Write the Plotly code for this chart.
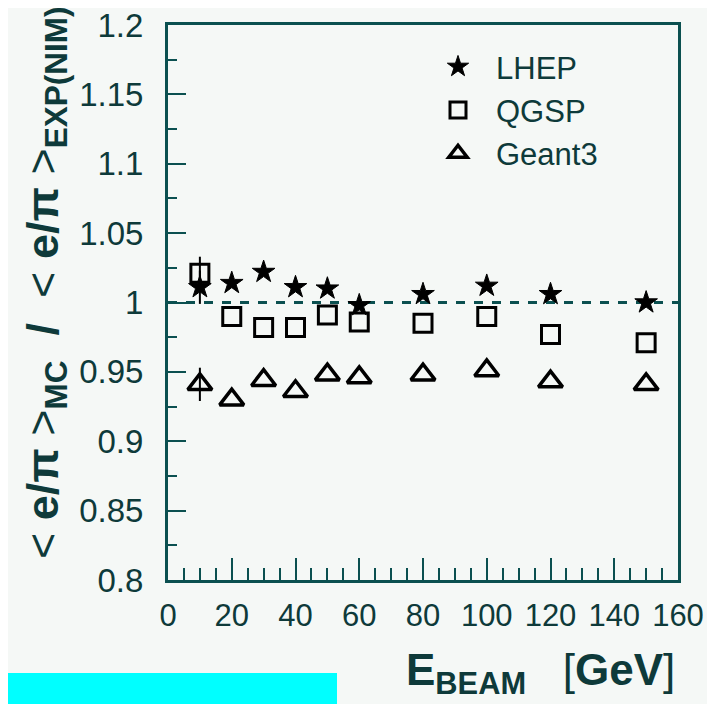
import plotly.graph_objects as go

energies = [10, 20, 30, 40, 50, 60, 80, 100, 120, 150]
lhep = [1.011, 1.014, 1.022, 1.011, 1.010, 0.998, 1.006, 1.012, 1.006, 1.000]
qgsp = [1.021, 0.990, 0.982, 0.982, 0.991, 0.986, 0.985, 0.990, 0.977, 0.971]
geant3 = [0.941, 0.930, 0.944, 0.936, 0.948, 0.946, 0.948, 0.951, 0.943, 0.941]
errs = [0.012, 0, 0, 0, 0, 0, 0, 0, 0, 0]
ref_value = 1.0
x_range = [0, 160]
y_range = [0.8, 1.2]

TXT = "#0e3a3a"
LINE = "#0b5050"
BG = "#f5f8f6"
FONT = "Liberation Sans, Arial, sans-serif"

# page body has an 8px margin: figure coordinates = reference pixels - 8
OFF = 8
W, H = 715, 704
L, R, T, B = 168 - OFF, 678 - OFF, 25 - OFF, 580 - OFF
PW, PH = R - L, B - T


def px(x):
    return (x - OFF - L) / PW


def py(y):
    return (B - (y - OFF)) / PH


fig = go.Figure()
series = [
    ("LHEP", lhep, "star", 17, "black", 1),
    ("QGSP", qgsp, "square-open", 18, "black", 3),
    ("Geant3", geant3, "triangle-up-open", 21, "black", 3.5),
]
for name, vals, sym, size, col, lw in series:
    fig.add_trace(go.Scatter(
        x=energies, y=vals, mode="markers", name=name,
        marker=dict(symbol=sym, size=size, color=col,
                    line=dict(color="black", width=lw)),
        error_y=dict(type="data", array=errs, visible=True, width=0,
                     thickness=2, color="black"),
    ))

fig.add_shape(type="line", xref="x", yref="y", x0=x_range[0], x1=x_range[1],
              y0=ref_value, y1=ref_value,
              line=dict(color=LINE, width=3, dash="dash"), layer="below")

# cyan strip artifact at the bottom-left of the image
fig.add_shape(type="rect", xref="paper", yref="paper",
              x0=px(-5), x1=px(337), y0=py(712), y1=py(673),
              fillcolor="#00ffff", line=dict(width=0), layer="above")

fig.update_layout(
    width=W, height=H,
    margin=dict(l=L, r=W - R, t=T, b=H - B, autoexpand=False),
    paper_bgcolor=BG, plot_bgcolor=BG,
    font=dict(family=FONT, color=TXT, size=32),
    showlegend=True,
    legend=dict(x=px(420), y=py(40), xanchor="left", yanchor="top",
                bgcolor="rgba(0,0,0,0)", font=dict(size=31, color=TXT),
                itemwidth=66, tracegroupgap=0),
)

fig.update_xaxes(
    range=x_range, showgrid=False, zeroline=False, automargin=False,
    showline=True, linecolor=LINE, linewidth=3, mirror=True,
    ticks="inside", ticklen=22, tickwidth=2, tickcolor=LINE,
    dtick=20, tick0=0,
    minor=dict(ticks="inside", ticklen=12, tickwidth=2, tickcolor=LINE, dtick=5),
    tickfont=dict(size=31, color=TXT), ticklabelstandoff=6,
    ticklabeloverflow="allow",
)
fig.update_yaxes(
    range=y_range, showgrid=False, zeroline=False, automargin=False,
    showline=True, linecolor=LINE, linewidth=3, mirror=True,
    ticks="inside", ticklen=18, tickwidth=2, tickcolor=LINE,
    dtick=0.05, tick0=0.8, tickformat="~g",
    minor=dict(ticks="inside", ticklen=9, tickwidth=2, tickcolor=LINE, dtick=0.025),
    tickfont=dict(size=33, color=TXT), ticklabelstandoff=15,
    ticklabeloverflow="allow",
)

fig.add_annotation(
    xref="paper", yref="paper", x=px(45), y=py(283),
    xanchor="center", yanchor="middle", textangle=-90, showarrow=False,
    text=("&lt; <b>e/π</b> &gt;<sub><b>MC</b></sub>&nbsp; <b>/</b> &nbsp;"
          "&lt; <b>e/π</b> &gt;<sub><b>EXP(NIM)</b></sub>"),
    font=dict(size=45, color=TXT, family=FONT),
)
fig.add_annotation(
    xref="paper", yref="paper", x=px(677), y=py(673),
    xanchor="right", yanchor="middle", showarrow=False,
    text="<b>E</b><sub><b>BEAM</b></sub>   [<b>GeV</b>]",
    font=dict(size=44, color=TXT, family=FONT),
)

fig.write_html("out.html")
